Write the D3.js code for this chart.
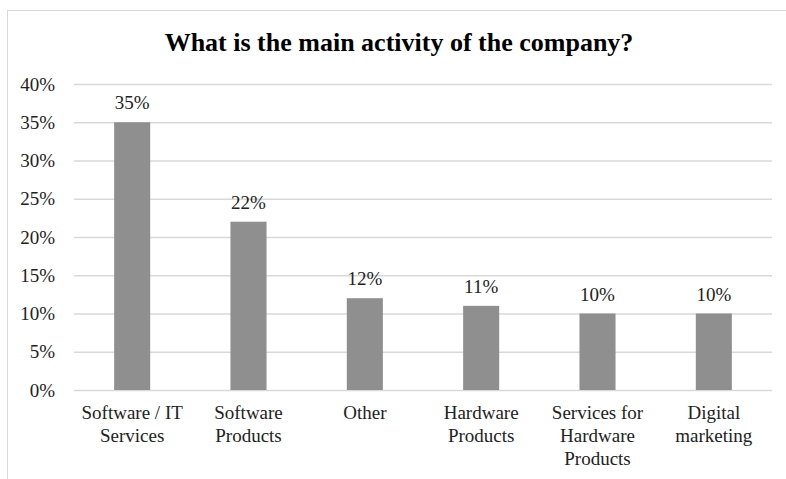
<!DOCTYPE html>
<html>
<head>
<meta charset="utf-8">
<script src="https://cdn.jsdelivr.net/npm/d3@7"></script>
<style>
  html, body { margin: 0; padding: 0; background: #fff; }
  svg { display: block; }
  svg text { font-family: "Liberation Serif", "Times New Roman", Times, serif; }
</style>
</head>
<body>
<svg id="chart" width="786" height="479"></svg>
<script>
// Survey answers: main activity of the company (share of respondents, %)
const categories = [
  "Software / IT Services",
  "Software Products",
  "Other",
  "Hardware Products",
  "Services for Hardware Products",
  "Digital marketing"
];
const shares = [35, 22, 12, 11, 10, 10];
const yTicks = [0, 5, 10, 15, 20, 25, 30, 35, 40];
const chartTitle = "What is the main activity of the company?";

const W = 786, H = 479;
const margin = { top: 84, right: 14, bottom: 89, left: 74 };
const serif = "\"Liberation Serif\", \"Times New Roman\", Times, serif";

const svg = d3.select("#chart");

// outer chart frame (runs past the right and bottom edges of the page)
svg.append("rect")
  .attr("x", 7.5).attr("y", 10.5)
  .attr("width", 800).attr("height", 500)
  .attr("fill", "#fff")
  .attr("stroke", "#d9d9d9")
  .attr("stroke-width", 1);

const x = d3.scaleBand()
  .domain(categories)
  .range([margin.left, W - margin.right])
  .paddingInner(0.69)
  .paddingOuter(0.345);

const y = d3.scaleLinear()
  .domain([0, 40])
  .range([H - margin.bottom, margin.top]);

// title
svg.append("text")
  .attr("x", 399).attr("y", 51)
  .attr("text-anchor", "middle")
  .style("font-family", serif)
  .style("font-weight", "bold")
  .style("font-size", "26px")
  .attr("fill", "#000")
  .text(chartTitle);

// horizontal gridlines + y labels
const yAxis = d3.axisLeft(y)
  .tickValues(yTicks)
  .tickSize(-(W - margin.left - margin.right))
  .tickPadding(19)
  .tickFormat(d => d + "%");

const gy = svg.append("g")
  .attr("transform", `translate(${margin.left},0)`)
  .call(yAxis);
gy.attr("font-family", null).attr("font-size", null);
gy.select(".domain").remove();
gy.selectAll(".tick line")
  .attr("stroke", "#d9d9d9")
  .attr("stroke-width", 1.3);
gy.selectAll(".tick text")
  .style("font-family", serif)
  .style("font-size", "19px")
  .attr("fill", "#222");

// bars
svg.append("g")
  .selectAll("rect")
  .data(categories)
  .join("rect")
  .attr("x", d => x(d))
  .attr("width", x.bandwidth())
  .attr("y", (d, i) => y(shares[i]))
  .attr("height", (d, i) => y(0) - y(shares[i]))
  .attr("fill", "#8f8f8f");

// value labels
svg.append("g")
  .selectAll("text")
  .data(categories)
  .join("text")
  .attr("x", d => x(d) + x.bandwidth() / 2)
  .attr("y", (d, i) => y(shares[i]) - 13)
  .attr("text-anchor", "middle")
  .style("font-family", serif)
  .style("font-size", "19px")
  .attr("fill", "#222")
  .text((d, i) => shares[i] + "%");

// category axis with wrapped labels
const xAxis = d3.axisBottom(x).tickSize(0).tickPadding(0);
const gx = svg.append("g")
  .attr("transform", `translate(0,${y(0)})`)
  .call(xAxis);
gx.attr("font-family", null).attr("font-size", null);
gx.select(".domain").remove();
gx.selectAll(".tick text")
  .style("font-family", serif)
  .style("font-size", "19px")
  .attr("fill", "#222")
  .attr("dy", null)
  .attr("y", 29)
  .each(function (d) {
    const t = d3.select(this);
    const words = d.split(" ");
    const maxW = x.step() * 0.95;
    t.text(null);
    const lines = [];
    let cur = [];
    const probe = t.append("tspan");
    words.forEach(w => {
      const trial = cur.concat([w]).join(" ");
      probe.text(trial);
      if (cur.length && probe.node().getComputedTextLength() > maxW) {
        lines.push(cur.join(" "));
        cur = [w];
      } else {
        cur.push(w);
      }
    });
    lines.push(cur.join(" "));
    probe.remove();
    lines.forEach((ln, i) => {
      t.append("tspan")
        .attr("x", 0)
        .attr("y", 29 + i * 23)
        .text(ln);
    });
  });
</script>
</body>
</html>
